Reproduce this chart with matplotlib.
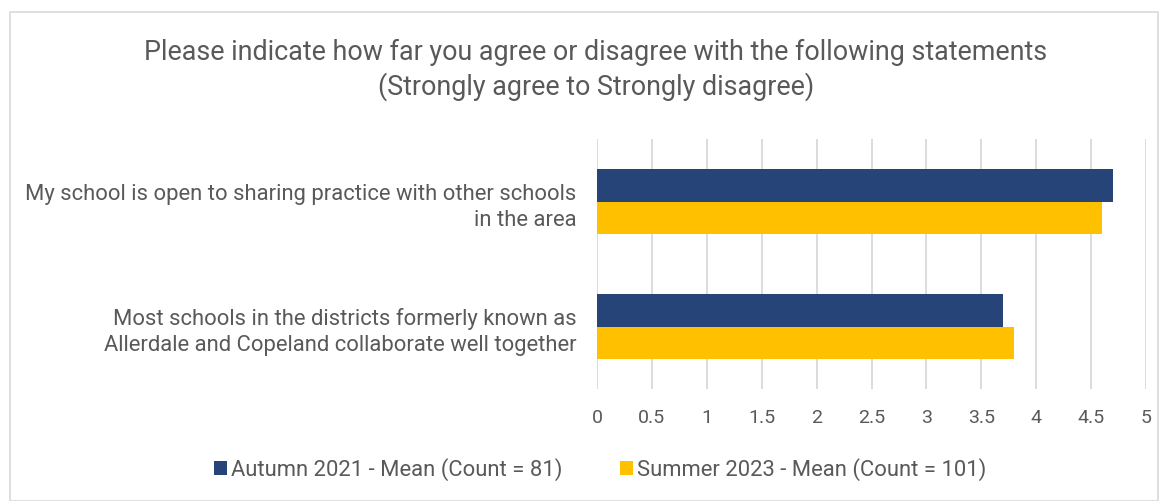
import matplotlib.pyplot as plt
from matplotlib.patches import Rectangle

plt.rcParams['font.family'] = ['Roboto', 'DejaVu Sans']

statements = [
    "My school is open to sharing practice with other schools\nin the area",
    "Most schools in the districts formerly known as\nAllerdale and Copeland collaborate well together",
]
autumn_2021 = [4.7, 3.7]
summer_2023 = [4.6, 3.8]
series_labels = ["Autumn 2021 - Mean (Count = 81)", "Summer 2023 - Mean (Count = 101)"]
xticks = [0, 0.5, 1, 1.5, 2, 2.5, 3, 3.5, 4, 4.5, 5]

blue = '#264478'
gold = '#FFC000'
grey_text = '#595959'

fig = plt.figure(figsize=(11.68, 5.02), dpi=100)
fig.patches.append(Rectangle((10 / 1168, 0), 1 - 20 / 1168, 1 - 13 / 502,
                             transform=fig.transFigure, fill=False,
                             edgecolor='#D9D9D9', linewidth=1.2))

ax = fig.add_axes([597 / 1168, 1 - 390 / 502, 549 / 1168, 250 / 502])
h = 0.26
pos = list(range(len(statements)))
ax.barh([p - h / 2 for p in pos], autumn_2021, height=h, color=blue, label=series_labels[0])
ax.barh([p + h / 2 for p in pos], summer_2023, height=h, color=gold, label=series_labels[1])

ax.set_ylim(1.5, -0.5)
ax.set_xlim(0, 5)
ax.set_xticks(xticks)
ax.set_xticklabels([f"{t:g}" for t in xticks])
ax.set_yticks(pos)
ax.set_yticklabels(statements, ha='right', linespacing=1.3, fontsize=15.8)
ax.tick_params(axis='both', length=0, colors=grey_text)
ax.tick_params(axis='x', pad=14, labelsize=14)
ax.tick_params(axis='y', pad=15)
ax.grid(axis='x', color='#D9D9D9', linewidth=1.3)
ax.set_axisbelow(True)
for s in ax.spines.values():
    s.set_visible(False)

fig.text(596 / 1168, 1 - 70 / 502,
         "Please indicate how far you agree or disagree with the following statements\n"
         "(Strongly agree to Strongly disagree)",
         ha='center', va='center', fontsize=19.4, color=grey_text, linespacing=1.3)

fig.legend(loc='center', bbox_to_anchor=(600 / 1168, 1 - 470 / 502), ncol=2,
           frameon=False, fontsize=15.8, labelcolor=grey_text,
           handlelength=0.6, handleheight=0.6, handletextpad=0.2, columnspacing=2.6)

fig.savefig('out.png', dpi=100, facecolor='white')
